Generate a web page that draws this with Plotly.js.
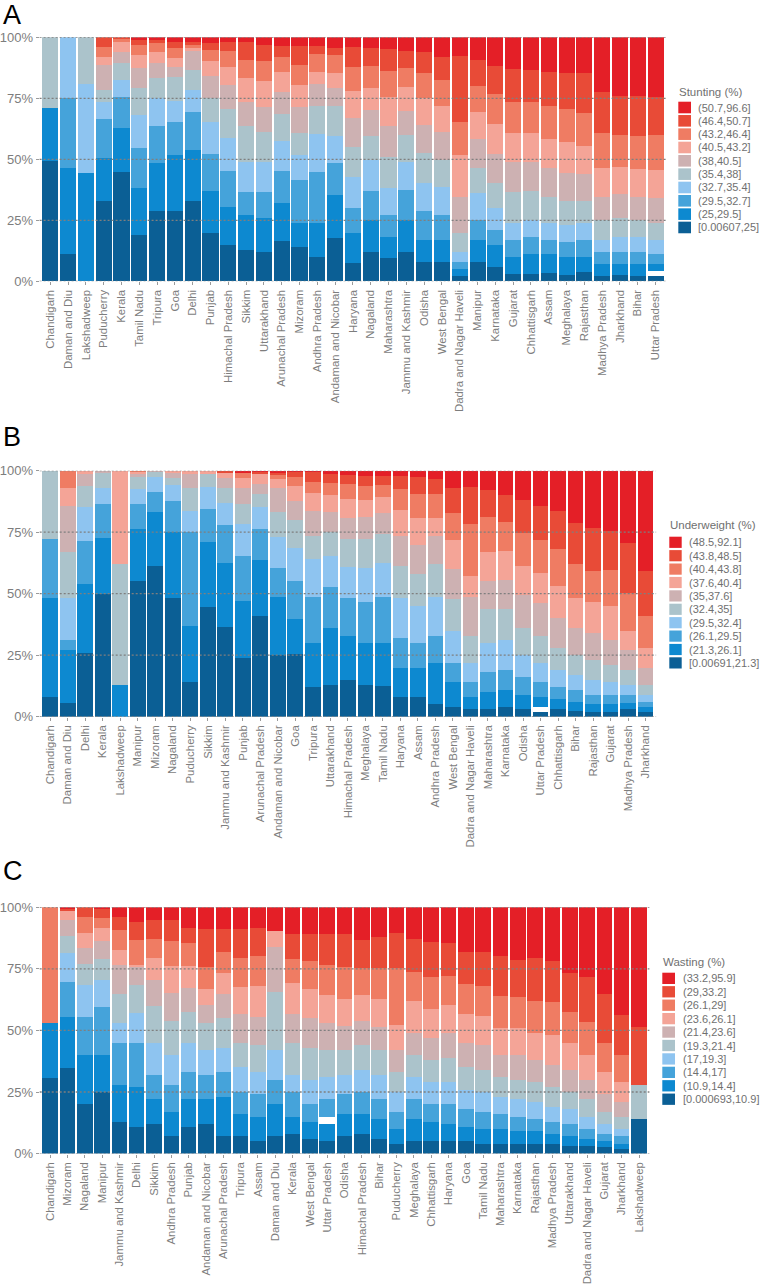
<!DOCTYPE html>
<html>
<head>
<meta charset="utf-8">
<script src="https://cdn.plot.ly/plotly-3.0.1.min.js"></script>
<style>
  html, body { margin: 0; padding: 0; background: #fff; }
  #chart { width: 762px; height: 1286px; }
</style>
</head>
<body>
<div id="chart"></div>
<script>
// colours of the ten bins, highest bin first
var binColors = ['#e41f27', '#e84b37', '#ef7c63', '#f4a497', '#cdb1b2',
                 '#abc3cb', '#8ec4f0', '#45a3da', '#0d89d0', '#0b5f95'];

// ---- A: stunting ----
var stuntingStates = ['Chandigarh', 'Daman and Diu', 'Lakshadweep', 'Puducherry', 'Kerala', 'Tamil Nadu',
    'Tripura', 'Goa', 'Delhi', 'Punjab', 'Himachal Pradesh', 'Sikkim', 'Uttarakhand', 'Arunachal Pradesh',
    'Mizoram', 'Andhra Pradesh', 'Andaman and Nicobar', 'Haryana', 'Nagaland', 'Maharashtra',
    'Jammu and Kashmir', 'Odisha', 'West Bengal', 'Dadra and Nagar Haveli', 'Manipur', 'Karnataka',
    'Gujarat', 'Chhattisgarh', 'Assam', 'Meghalaya', 'Rajasthan', 'Madhya Pradesh', 'Jharkhand', 'Bihar',
    'Uttar Pradesh'];
var stuntingBins = ['(50.7,96.6]', '(46.4,50.7]', '(43.2,46.4]', '(40.5,43.2]', '(38,40.5]',
    '(35.4,38]', '(32.7,35.4]', '(29.5,32.7]', '(25,29.5]', '[0.00607,25]'];
// share (%) of each state in each bin, highest bin first
var stuntingShares = [
    [0, 0, 0, 0, 0, 28.8, 0, 0, 21.9, 49.3],
    [0, 0, 0, 0, 0, 0, 24.8, 28.6, 35.6, 11],
    [0, 0, 0, 0, 0, 19.3, 36.5, 0, 44.2, 0],
    [0, 3.8, 4.1, 3.5, 10.2, 4.8, 7.2, 16, 17.5, 32.9],
    [0, 0.7, 1.1, 4.1, 4.8, 6.8, 6.8, 12.7, 18.1, 44.9],
    [1.1, 2.1, 4.1, 5.4, 8.2, 11, 13.6, 16.4, 19.1, 19],
    [1.1, 1.4, 3.4, 4.8, 6.1, 8, 11.6, 15.3, 19.3, 29],
    [1.8, 2.7, 4.1, 3.4, 4.1, 10, 8.5, 13.6, 22.8, 29],
    [1.8, 1.5, 1, 1.5, 7.5, 8.2, 9.3, 15.3, 21, 32.9],
    [2.5, 2.7, 4.5, 6.2, 9.1, 9.9, 13.1, 14.9, 17.4, 19.7],
    [1.8, 3.8, 6.4, 7.6, 9.9, 11.6, 13.7, 14.6, 15.6, 15],
    [2.1, 7.2, 7.5, 9.9, 9.5, 14.8, 12.3, 9.7, 14.2, 12.8],
    [3.2, 6.5, 8.2, 10.5, 10.5, 12.1, 12.3, 10.7, 14, 12],
    [3.4, 4.8, 5.9, 8.5, 9, 10.8, 12.4, 13.2, 15.5, 16.5],
    [3.6, 7.8, 8.2, 8.8, 11, 8.8, 10.3, 17.5, 10, 14],
    [3.4, 3.6, 7.1, 5.2, 8.9, 11.6, 15.2, 21, 14, 10],
    [4.2, 3.1, 7.5, 6.1, 7.3, 12.3, 10.9, 13.2, 17.7, 17.7],
    [3.8, 8.2, 9.9, 11, 11.9, 12.3, 12.7, 10.2, 12.5, 7.5],
    [4.2, 7.4, 9.3, 8.9, 10.7, 9.8, 12.7, 12, 13, 12],
    [4.9, 8.9, 10.5, 11.9, 12.7, 13, 11.1, 9, 8.5, 9.5],
    [5.6, 6.8, 7.8, 9.9, 10, 10.9, 11.6, 12.4, 13, 12],
    [5.9, 8.9, 10.2, 11, 11.6, 12.3, 11.1, 12, 9, 8],
    [7.9, 9.6, 10.5, 10.9, 11.4, 11.2, 11.5, 10, 9, 8],
    [7.7, 27.2, 13.3, 17.4, 14.4, 8, 4, 3, 3, 2],
    [9.3, 10.7, 10.5, 11.2, 11.7, 10.6, 11, 8, 9, 8],
    [11.8, 11.4, 12.5, 12.3, 11.6, 10.5, 8.9, 6, 9, 6],
    [13.1, 13.3, 12.7, 12.2, 12, 12.7, 7, 7, 7, 3],
    [13.4, 13, 12.7, 11.9, 12, 12, 7, 7, 8, 3],
    [14.4, 13.6, 13.7, 12, 11.6, 10.7, 7, 6, 7.5, 3.5],
    [14.8, 14.6, 13.4, 13, 11.3, 9.9, 7, 6, 7.4, 2.6],
    [14.8, 16.1, 13.7, 11.6, 10.8, 9, 7, 7, 6, 4],
    [22.3, 17.1, 14, 11.9, 9.7, 8, 5, 5, 5, 2],
    [23.9, 16.1, 13, 11.2, 9.8, 8, 6, 5, 4.5, 2.5],
    [24.1, 16.4, 13.6, 11.5, 9.4, 7, 6, 5, 5, 2],
    [24.4, 15.6, 14.5, 11.5, 10, 7, 6, 4, 2.6, 2]
];
var stuntingNA = stuntingStates.map(s => s == 'Uttar Pradesh' ? 2.4 : 0);

// ---- B: underweight ----
var underweightStates = ['Chandigarh', 'Daman and Diu', 'Delhi', 'Kerala', 'Lakshadweep', 'Manipur',
    'Mizoram', 'Nagaland', 'Puducherry', 'Sikkim', 'Jammu and Kashmir', 'Punjab', 'Arunachal Pradesh',
    'Andaman and Nicobar', 'Goa', 'Tripura', 'Uttarakhand', 'Himachal Pradesh', 'Meghalaya', 'Tamil Nadu',
    'Haryana', 'Assam', 'Andhra Pradesh', 'West Bengal', 'Dadra and Nagar Haveli', 'Maharashtra',
    'Karnataka', 'Odisha', 'Uttar Pradesh', 'Chhattisgarh', 'Bihar', 'Rajasthan', 'Gujarat',
    'Madhya Pradesh', 'Jharkhand'];
var underweightBins = ['(48.5,92.1]', '(43.8,48.5]', '(40.4,43.8]', '(37.6,40.4]', '(35,37.6]',
    '(32.4,35]', '(29.5,32.4]', '(26.1,29.5]', '(21.3,26.1]', '[0.00691,21.3]'];
var underweightShares = [
    [0, 0, 0, 0, 0, 27.9, 0, 23.6, 40.4, 8],
    [0, 0, 7.2, 7, 19, 18.4, 17.4, 4, 21.5, 5.5],
    [0, 0, 0, 1.5, 4.6, 8.5, 14, 17.6, 27.8, 26],
    [0, 0, 0, 0, 1.1, 5.8, 6.6, 13.7, 23.1, 49.7],
    [0, 0, 0, 38.1, 0, 49.1, 0, 0, 12.8, 0],
    [0, 0, 0.5, 0.7, 1.5, 4.9, 5.8, 10.4, 21, 55.3],
    [0, 0, 0, 0, 0.5, 1.9, 6.1, 8.4, 21.9, 61.2],
    [0, 0, 0, 1.1, 1.7, 3, 6.4, 12.9, 26.8, 48.1],
    [0, 0, 0, 1.5, 5.4, 9.5, 8.7, 37.9, 23, 14],
    [0, 0, 0, 1.4, 0, 5.1, 9.1, 13.5, 26.2, 44.7],
    [0, 0.8, 0, 2.3, 4.1, 6.1, 8.8, 15.6, 25.8, 36.5],
    [0.8, 0, 2.3, 4.1, 6.3, 8.2, 12.9, 18.2, 23.2, 24],
    [0.7, 0.8, 0, 3.8, 4.1, 5.2, 9.3, 12.6, 22.8, 40.9],
    [0.8, 0.8, 1.8, 3.8, 9.7, 9.9, 12.9, 11.8, 23.5, 25],
    [0.7, 1.7, 3.8, 6.1, 7.7, 11.6, 13.1, 15.7, 14.1, 25.5],
    [0.7, 3.8, 4.7, 7.2, 10, 9.5, 15.3, 18.8, 18, 12],
    [1.5, 3.4, 5, 6.8, 8.1, 9.8, 12.6, 16.8, 23, 13],
    [1.8, 3.8, 6.1, 7.4, 8.7, 11.2, 12.9, 15.1, 18, 15],
    [2.2, 3.9, 5.8, 6.8, 9.1, 11.6, 13.8, 16.8, 17, 13],
    [2.2, 3.6, 4.9, 6.4, 8.6, 11.7, 13.8, 18.8, 17.5, 12.5],
    [2.2, 5.3, 8.4, 10.7, 12.1, 12.9, 16.4, 12, 12, 8],
    [2.7, 6.9, 9.5, 11.1, 11.9, 12.9, 15, 10, 12, 8],
    [3.5, 6.1, 9.5, 7.5, 11.5, 13.4, 15.5, 11, 17, 5],
    [7.2, 9.9, 11.1, 11.9, 12.2, 12.7, 13, 8, 10, 4],
    [6.5, 15.3, 21, 8.4, 15.8, 11, 8, 6, 5, 3],
    [7.9, 10.8, 14.2, 11.8, 11.5, 13.8, 12, 8, 7, 3],
    [9.9, 10.8, 11.8, 11.9, 11.8, 12.8, 12, 8, 7, 4],
    [11.9, 13.3, 13.4, 11.9, 13.5, 11, 9, 7, 6, 3],
    [14.2, 14, 13.3, 12.2, 13.3, 11, 8, 6, 4, 1.8],
    [16.4, 15.6, 14.9, 12.9, 12.2, 9, 7, 5, 4, 3],
    [21.1, 16.8, 14, 12.1, 11, 8, 6, 5, 3.5, 2.5],
    [23.4, 17.4, 12.7, 12.5, 11, 8, 6, 4, 3, 2],
    [24.5, 15.9, 14.6, 14, 10, 7, 5, 4, 3, 2],
    [29.3, 20.6, 15.1, 8, 8, 6, 4, 3.5, 2.5, 3],
    [40.8, 18.3, 12.9, 8, 7, 4, 3, 2, 2, 2]
];
var underweightNA = underweightStates.map(s => s == 'Uttar Pradesh' ? 2.2 : 0);

// ---- C: wasting ----
var wastingStates = ['Chandigarh', 'Mizoram', 'Nagaland', 'Manipur', 'Jammu and Kashmir', 'Delhi', 'Sikkim',
    'Andhra Pradesh', 'Punjab', 'Andaman and Nicobar', 'Arunachal Pradesh', 'Tripura', 'Assam',
    'Daman and Diu', 'Kerala', 'West Bengal', 'Uttar Pradesh', 'Odisha', 'Himachal Pradesh', 'Bihar',
    'Puducherry', 'Meghalaya', 'Chhattisgarh', 'Haryana', 'Goa', 'Tamil Nadu', 'Maharashtra', 'Karnataka',
    'Rajasthan', 'Madhya Pradesh', 'Uttarakhand', 'Dadra and Nagar Haveli', 'Gujarat', 'Jharkhand',
    'Lakshadweep'];
var wastingBins = ['(33.2,95.9]', '(29,33.2]', '(26.1,29]', '(23.6,26.1]', '(21.4,23.6]',
    '(19.3,21.4]', '(17,19.3]', '(14.4,17]', '(10.9,14.4]', '[0.000693,10.9]'];
var wastingShares = [
    [0, 0, 47.1, 0, 0, 0, 0, 0, 22.2, 30.7],
    [0.8, 0.9, 0, 3.4, 6.5, 7, 11.8, 14, 20.9, 34.7],
    [0, 3.8, 6.5, 6.1, 6.8, 8.3, 12.9, 15.6, 20, 20],
    [0.8, 3.6, 4.1, 5, 7.5, 8.5, 10.8, 19.7, 15, 25],
    [3.8, 5.4, 8.1, 6.1, 11.9, 11.5, 8.2, 17, 15, 13],
    [5.8, 7.4, 10.2, 0.9, 7.2, 11.5, 12, 18, 16, 11],
    [5.1, 7.9, 7.7, 8.8, 10.4, 15.1, 13, 10, 10, 12],
    [5.1, 8.5, 10.3, 10.8, 11.4, 13.9, 12, 11, 10, 7],
    [8.5, 5.9, 9.3, 9, 9.7, 12.6, 12, 11, 11, 11],
    [8.8, 15.3, 9.2, 6.3, 7.5, 10.9, 10, 10, 10, 12],
    [9, 9.2, 8.4, 8.4, 10.1, 11.9, 10, 10, 16, 7],
    [8.9, 11.6, 11.8, 11.2, 11.5, 10, 10, 9, 9, 7],
    [8.3, 11.4, 12.2, 12.5, 11.6, 11, 9, 9, 10, 5],
    [9.6, 0, 0, 6.6, 18, 23.8, 12, 10, 13, 7],
    [10.9, 10.1, 9.9, 12.5, 11.6, 13, 7, 10, 7, 8],
    [10.8, 11, 11.5, 11.5, 12.2, 13, 10, 7, 7, 6],
    [10.8, 12.6, 12.2, 11.4, 11, 11, 9, 7, 7, 5],
    [10.8, 13.5, 13, 10.7, 10, 10, 8, 8, 9, 7],
    [13.2, 11.5, 10.9, 10.5, 9.9, 10, 9, 9, 8, 8],
    [12.2, 12.5, 12.6, 11.1, 9.6, 10, 10, 8, 8, 6],
    [10.3, 14.4, 23, 10.3, 9, 8, 8, 7, 6, 4],
    [12.8, 13.3, 11.9, 12.9, 9.1, 9, 9, 8, 9, 5],
    [13.9, 14.2, 13.1, 11.8, 9, 9, 9, 7, 8, 5],
    [14.6, 13.1, 11.9, 11.4, 10, 10, 9, 8, 7, 5],
    [18.2, 12.9, 12.2, 11.7, 10, 9, 8, 7, 6, 5],
    [18.2, 13.7, 12.2, 11.9, 10, 9, 8, 7, 6, 4],
    [19.7, 16.3, 13.1, 10.9, 9, 8, 7, 6, 6, 4],
    [21.6, 14.9, 12.6, 10.9, 10, 8, 7, 6, 5, 4],
    [20.4, 17.6, 13, 11, 9, 8, 7, 5, 5, 4],
    [21.8, 16.7, 13.5, 12, 9, 8, 6, 5, 4, 4],
    [26.8, 15.9, 12.3, 11, 9, 7, 6, 5, 4, 3],
    [28.4, 18.3, 13.3, 10, 8, 7, 5, 4, 3, 3],
    [35.2, 19.8, 12, 9, 7, 5, 4, 3, 2.5, 2.5],
    [43.7, 16.3, 11, 8, 6, 5, 3, 3, 2, 2],
    [48.8, 23.2, 0, 0, 0, 14, 0, 0, 0, 14]
];
var wastingNA = wastingStates.map(s => s == 'Uttar Pradesh' ? 3 : 0);

var gridValues = [0, 25, 50, 75, 100];
var gridLabels = ['0%', '25%', '50%', '75%', '100%'];

var W = 762, H = 1286;
function px(x) { return x / W; }
function py(y) { return 1 - y / H; }

var axisGray = '#7d7d7d';
var textFont = 'Liberation Sans, Arial, sans-serif';

// one stacked panel: traces, axes, grid shapes and a hand made legend
function StackPanel(id, letter, title, states, bins, shares, naShare, naAbove, box) {
    this.id = id;
    this.traces = [];
    for (var k = bins.length - 1; k >= 0; k--) {
        this.traces.push({
            type: 'bar',
            x: states,
            y: shares.map(row => row[k]),
            name: bins[k],
            marker: { color: binColors[k], line: { width: 0 } },
            xaxis: 'x' + id,
            yaxis: 'y' + id,
            showlegend: false,
            hoverinfo: 'x+name'
        });
        if (k == naAbove) {
            this.traces.push({
                type: 'bar', x: states, y: naShare, name: 'NA',
                marker: { color: '#ffffff', line: { width: 0 } },
                xaxis: 'x' + id, yaxis: 'y' + id, showlegend: false, hoverinfo: 'x+name'
            });
        }
    }

    this.xaxis = {
        domain: [px(box.left), px(box.right)],
        anchor: 'y' + id,
        type: 'category',
        categoryorder: 'array',
        categoryarray: states,
        range: [-0.6, states.length - 0.4],
        tickangle: -90,
        ticks: 'outside', ticklen: 3, tickwidth: 1, tickcolor: '#9a9a9a',
        tickfont: { family: textFont, size: 11.4, color: axisGray },
        showgrid: false, zeroline: false, showline: false
    };
    this.yaxis = {
        domain: [py(box.bottom), py(box.top)],
        anchor: 'x' + id,
        range: [0, 100],
        tickmode: 'array',
        tickvals: gridValues,
        ticktext: gridLabels,
        ticks: 'outside', ticklen: 3, tickwidth: 1, tickcolor: '#9a9a9a',
        tickfont: { family: textFont, size: 13, color: axisGray },
        showgrid: false, zeroline: false, showline: false
    };

    // dotted reference lines drawn over the bars
    this.shapes = gridValues.map(v => ({
        type: 'line', xref: 'x' + id + ' domain', yref: 'y' + id,
        x0: 0, x1: 1, y0: v, y1: v, layer: 'above',
        line: { color: '#7f7f7f', width: 1.3, dash: '2px,2px' }
    }));

    this.annotations = [{
        text: letter, xref: 'paper', yref: 'paper',
        x: px(1), y: py(box.letterY), xanchor: 'left', yanchor: 'middle',
        showarrow: false, font: { family: textFont, size: 27, color: '#000000' }
    }, {
        text: title, xref: 'paper', yref: 'paper',
        x: px(box.legX - 1), y: py(box.legTitleY), xanchor: 'left', yanchor: 'middle',
        showarrow: false, font: { family: textFont, size: 11.5, color: '#707070' }
    }];

    for (var i = 0; i < bins.length; i++) {
        var top = box.legTop + i * box.legStep;
        this.shapes.push({
            type: 'rect', xref: 'paper', yref: 'paper',
            x0: px(box.legX), x1: px(box.legX + box.swW),
            y0: py(top + box.swH), y1: py(top),
            fillcolor: binColors[i], line: { width: 0 }
        });
        this.annotations.push({
            text: bins[i], xref: 'paper', yref: 'paper',
            x: px(box.textX - 1), y: py(top + box.swH / 2), xanchor: 'left', yanchor: 'middle',
            showarrow: false, font: { family: textFont, size: 11, color: '#707070' }
        });
    }
}

var panels = [
    new StackPanel('', 'A', 'Stunting (%)', stuntingStates, stuntingBins, stuntingShares, stuntingNA, 9,
        { left: 39.6, right: 666.2, top: 37.3, bottom: 281.3, letterY: 15.5,
          legX: 678.3, legTitleY: 91.7, legTop: 101.7, legStep: 13.33, swW: 12.7, swH: 11.6, textX: 697.3 }),
    new StackPanel('2', 'B', 'Underweight (%)', underweightStates, underweightBins, underweightShares, underweightNA, 9,
        { left: 39.7, right: 656.1, top: 470.7, bottom: 716.7, letterY: 437,
          legX: 669.3, legTitleY: 525, legTop: 536.7, legStep: 13.4, swW: 12.4, swH: 11.2, textX: 688.3 }),
    new StackPanel('3', 'C', 'Wasting (%)', wastingStates, wastingBins, wastingShares, wastingNA, 8,
        { left: 39.7, right: 649.4, top: 907.3, bottom: 1153.6, letterY: 871,
          legX: 662.3, legTitleY: 962, legTop: 972.7, legStep: 13.43, swW: 12.7, swH: 11.3, textX: 681.7 })
];

var data = [];
var layout = {
    width: W, height: H,
    margin: { l: 0, r: 0, t: 0, b: 0 },
    paper_bgcolor: '#ffffff', plot_bgcolor: '#ffffff',
    barmode: 'stack', barnorm: 'percent', bargap: 0.1,
    showlegend: false,
    font: { family: textFont },
    shapes: [], annotations: []
};
panels.forEach(function (p) {
    data = data.concat(p.traces);
    layout['xaxis' + p.id] = p.xaxis;
    layout['yaxis' + p.id] = p.yaxis;
    layout.shapes = layout.shapes.concat(p.shapes);
    layout.annotations = layout.annotations.concat(p.annotations);
});

Plotly.newPlot('chart', data, layout, { displayModeBar: false, staticPlot: true });
</script>
</body>
</html>
